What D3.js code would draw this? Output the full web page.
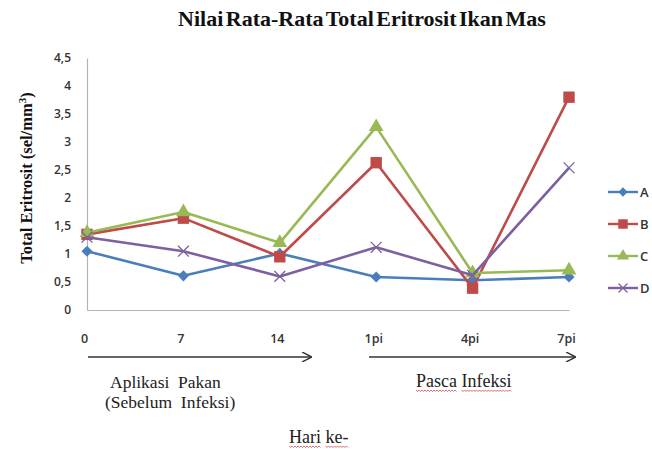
<!DOCTYPE html>
<html>
<head>
<meta charset="utf-8">
<script src="https://cdn.jsdelivr.net/npm/d3@7"></script>
<style>
  body { margin: 0; background: #fff; }
  .serif { font-family: "Liberation Serif", "DejaVu Serif", serif; }
  .sans { font-family: "Open Sans", "Liberation Sans", sans-serif; }
</style>
</head>
<body>
<script>
var days = ['0', '7', '14', '1pi', '4pi', '7pi'];
var seriesNames = ['A', 'B', 'C', 'D'];
var valA = [1.05, 0.61, 1.01, 0.59, 0.53, 0.59];
var valB = [1.35, 1.64, 0.95, 2.63, 0.39, 3.8];
var valC = [1.38, 1.75, 1.2, 3.27, 0.66, 0.71];
var valD = [1.3, 1.05, 0.6, 1.12, 0.62, 2.54];
var yTicks = [0, 0.5, 1, 1.5, 2, 2.5, 3, 3.5, 4, 4.5];
var colors = ['#4a7ebb', '#be4b48', '#98b954', '#7d60a0'];
var shapes = ['diamond', 'square', 'triangle', 'cross'];

var series = [valA, valB, valC, valD].map(function(v, i) {
  return { name: seriesNames[i], values: v, color: colors[i], shape: shapes[i] };
});

var width = 652, height = 449;

var svg = d3.select("body").append("svg")
  .attr("width", width)
  .attr("height", height);

var xScale = d3.scalePoint()
  .domain(days)
  .range([87, 569])
  .padding(0);

var yScale = d3.scaleLinear()
  .domain([0, 4.5])
  .range([310, 58]);

// title
svg.append("text")
  .attr("class", "serif")
  .attr("x", 362)
  .attr("y", 26)
  .attr("text-anchor", "middle")
  .attr("font-size", "22px")
  .attr("font-weight", "bold")
  .attr("word-spacing", "-3px")
  .attr("fill", "#111")
  .text("Nilai Rata-Rata Total Eritrosit Ikan Mas");

// y axis title
svg.append("text")
  .attr("class", "serif")
  .attr("transform", "translate(32,178) rotate(-90)")
  .attr("text-anchor", "middle")
  .attr("font-size", "16.5px")
  .attr("font-weight", "bold")
  .attr("fill", "#111")
  .html("Total Eritrosit  (sel/mm<tspan dy='-6' font-size='11px'>3</tspan><tspan dy='6'>)</tspan>");

// axis-y
var yAxis = svg.append("g")
  .attr("class", "sans")
  .attr("transform", "translate(87,0)")
  .call(d3.axisLeft(yScale).tickValues(yTicks).tickSize(0).tickPadding(16)
    .tickFormat(function(d) { return String(d).replace('.', ','); }));
yAxis.select(".domain").attr("stroke", "#b3b3b3").attr("stroke-width", 1.2);
yAxis.selectAll("text").attr("font-size", "12px").attr("font-weight", 600).attr("fill", "#333");

// axis-x (line only)
var xAxis = svg.append("g")
  .attr("transform", "translate(0,310)")
  .call(d3.axisBottom(xScale).tickSize(0).tickFormat(""));
xAxis.select(".domain").attr("stroke", "#b3b3b3").attr("stroke-width", 1.2);

// day labels below
var xLabels = svg.append("g")
  .attr("class", "sans")
  .attr("transform", "translate(-3,343)")
  .call(d3.axisBottom(xScale).tickSize(0).tickPadding(0));
xLabels.select(".domain").remove();
xLabels.selectAll("text").attr("font-size", "12.5px").attr("font-weight", 600)
  .attr("fill", "#333").attr("dy", "0");

// arrows
var defs = svg.append("defs");
defs.append("marker")
  .attr("id", "arrow")
  .attr("viewBox", "0 0 10 10")
  .attr("refX", 9).attr("refY", 5)
  .attr("markerWidth", 10).attr("markerHeight", 10)
  .attr("markerUnits", "userSpaceOnUse")
  .attr("orient", "auto")
  .append("path")
  .attr("d", "M0,0 L10,5 L0,10")
  .attr("fill", "none")
  .attr("stroke", "#333")
  .attr("stroke-width", 1.4);

[[88, 311, 357], [369, 575, 357]].forEach(function(a) {
  svg.append("line")
    .attr("x1", a[0]).attr("x2", a[1])
    .attr("y1", a[2]).attr("y2", a[2])
    .attr("stroke", "#333")
    .attr("stroke-width", 1.3)
    .attr("marker-end", "url(#arrow)");
});

// wavy spell-check underline under each word
function squiggle(t) {
  var node = t.node();
  var str = node.textContent;
  var y = +t.attr("y") + 3;
  var bb = node.getBBox();
  var pos = 0;
  str.split(" ").forEach(function(w) {
    var start = str.indexOf(w, pos);
    pos = start + w.length;
    var x0 = bb.x + node.getSubStringLength(0, start);
    var x1 = x0 + node.getSubStringLength(start, w.length);
    var d = "M" + x0 + "," + y;
    for (var x = x0 + 1.5, k = 0; x <= x1; x += 1.5, k++) {
      d += "L" + x + "," + (y + (k % 2 === 0 ? 1.5 : 0));
    }
    svg.append("path").attr("d", d).attr("fill", "none")
      .attr("stroke", "#d24a4a").attr("stroke-width", 0.8);
  });
}

// phase labels
svg.append("text").attr("class", "serif")
  .attr("x", 110).attr("y", 388)
  .attr("font-size", "17.5px").attr("fill", "#222")
  .attr("xml:space", "preserve")
  .text("Aplikasi  Pakan");
svg.append("text").attr("class", "serif")
  .attr("x", 105).attr("y", 408)
  .attr("font-size", "17.5px").attr("fill", "#222")
  .attr("xml:space", "preserve")
  .text("(Sebelum  Infeksi)");
var pasca = svg.append("text").attr("class", "serif")
  .attr("x", 416).attr("y", 387)
  .attr("font-size", "18px").attr("fill", "#222")
  .text("Pasca Infeksi");
squiggle(pasca);
var hari = svg.append("text").attr("class", "serif")
  .attr("x", 289).attr("y", 443)
  .attr("font-size", "18px").attr("fill", "#222")
  .text("Hari ke-");
squiggle(hari);

// marker drawing
function drawMarker(sel, shape, color, size) {
  if (shape === 'cross') {
    var s = size * 0.9;
    sel.append("path")
      .attr("d", "M" + (-s) + "," + (-s) + "L" + s + "," + s + "M" + (-s) + "," + s + "L" + s + "," + (-s))
      .attr("stroke", color)
      .attr("stroke-width", 1.3)
      .attr("fill", "none");
  } else {
    var sym = shape === 'diamond' ? d3.symbolDiamond2 : shape === 'square' ? d3.symbolSquare : d3.symbolTriangle;
    var area = shape === 'diamond' ? size * size * 2.2 : shape === 'square' ? size * size * 3.6 : size * size * 2.6;
    sel.append("path")
      .attr("d", d3.symbol().type(sym).size(area)())
      .attr("fill", color);
  }
}

// line chart
var line = d3.line()
  .x(function(d, i) { return xScale(days[i]); })
  .y(function(d) { return yScale(d); });

var sg = svg.selectAll(".series")
  .data(series)
  .enter().append("g")
  .attr("class", "series");

sg.append("path")
  .attr("d", function(d) { return line(d.values); })
  .attr("fill", "none")
  .attr("stroke", function(d) { return d.color; })
  .attr("stroke-width", 2.6)
  .attr("stroke-linejoin", "round");

sg.each(function(s) {
  var g = d3.select(this);
  s.values.forEach(function(v, i) {
    var m = g.append("g")
      .attr("transform", "translate(" + xScale(days[i]) + "," + yScale(v) + ")");
    drawMarker(m, s.shape, s.color, 6);
  });
});

// legend
var legend = svg.selectAll(".legend")
  .data(series)
  .enter().append("g")
  .attr("class", "legend")
  .attr("transform", function(d, i) { return "translate(608," + (192 + i * 32) + ")"; });

legend.append("line")
  .attr("x1", 0).attr("x2", 30)
  .attr("stroke", function(d) { return d.color; })
  .attr("stroke-width", 2.4);

legend.each(function(d) {
  var m = d3.select(this).append("g").attr("transform", "translate(15,0)");
  drawMarker(m, d.shape, d.color, 5);
});

legend.append("text")
  .attr("class", "sans")
  .attr("x", 32)
  .attr("y", 5)
  .attr("font-size", "13px")
  .attr("font-weight", 600)
  .attr("fill", "#333")
  .text(function(d) { return d.name; });
</script>
</body>
</html>
